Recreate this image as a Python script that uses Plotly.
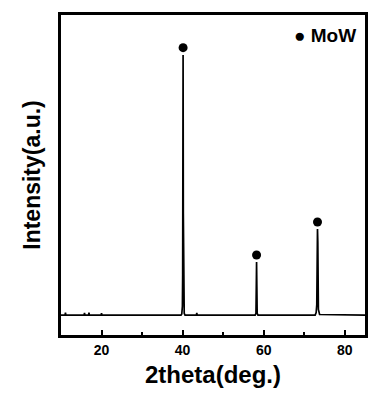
import plotly.graph_objects as go

# XRD pattern (2theta in degrees, intensity in arbitrary units)
two_theta = [10.0, 11.0, 11.1, 11.2, 15.7, 15.8, 15.9, 16.8, 16.9, 17.0, 19.9, 20.0, 20.1,
             39.6, 39.8, 39.95, 40.02, 40.08, 40.12, 40.18, 40.25, 40.4, 40.6,
             43.4, 43.5, 43.6,
             57.9, 58.1, 58.18, 58.25, 58.32, 58.4, 58.6,
             72.7, 72.95, 73.1, 73.2, 73.28, 73.36, 73.5, 73.8, 85.0]
intensity = [6.2, 6.2, 7.0, 6.2, 6.2, 6.9, 6.2, 6.2, 7.0, 6.2, 6.2, 6.8, 6.2,
             6.2, 6.6, 9.0, 19.0, 38.0, 87.5, 38.0, 9.0, 6.8, 6.2,
             6.2, 6.9, 6.2,
             6.2, 6.8, 15.0, 22.8, 15.0, 6.8, 6.2,
             6.2, 7.0, 9.4, 29.0, 33.1, 29.0, 8.0, 6.4, 6.2]

# MoW peak markers
peak_pos = [40.12, 58.25, 73.28]
peak_mark = [89.8, 25.0, 35.3]

x_ticks = [20, 40, 60, 80]
x_minor = [30, 50, 70]

FONT = "Liberation Sans, Arial"

fig = go.Figure()
fig.add_trace(go.Scatter(x=two_theta, y=intensity, mode="lines",
                         line=dict(color="black", width=1.7), showlegend=False))
fig.add_trace(go.Scatter(x=peak_pos, y=peak_mark, mode="markers", name="MoW",
                         marker=dict(color="black", size=9), showlegend=False))

fig.add_annotation(xref="paper", yref="paper", x=0.977, y=0.9375,
                   xanchor="right", yanchor="middle", showarrow=False,
                   text="<span style='font-size:19px'>●</span> MoW",
                   font=dict(size=19, family=FONT, weight="bold", color="black"))

fig.update_layout(
    width=392, height=401,
    margin=dict(l=53, r=35, t=7, b=74, autoexpand=False),
    paper_bgcolor="white", plot_bgcolor="white",
    font=dict(family=FONT, color="black"),
    xaxis=dict(range=[10, 85], tickvals=x_ticks, ticks="inside", ticklen=5, tickwidth=2,
               tickcolor="black", showline=True, linewidth=2.5, linecolor="black", mirror=True,
               showgrid=False, zeroline=False,
               tickfont=dict(size=14, family=FONT, weight="bold"),
               minor=dict(tickvals=x_minor, ticks="inside", ticklen=3, tickwidth=2,
                          tickcolor="black"),
               title=dict(text="2theta(deg.)", standoff=10,
                          font=dict(size=24, family=FONT, weight="bold"))),
    yaxis=dict(range=[0, 100], showticklabels=False, ticks="", showline=True, linewidth=2.5,
               linecolor="black", mirror=True, showgrid=False, zeroline=False,
               title=dict(text="Intensity(a.u.)", standoff=12,
                          font=dict(size=23, family=FONT, weight="bold"))),
)

fig.write_html("out.html")
